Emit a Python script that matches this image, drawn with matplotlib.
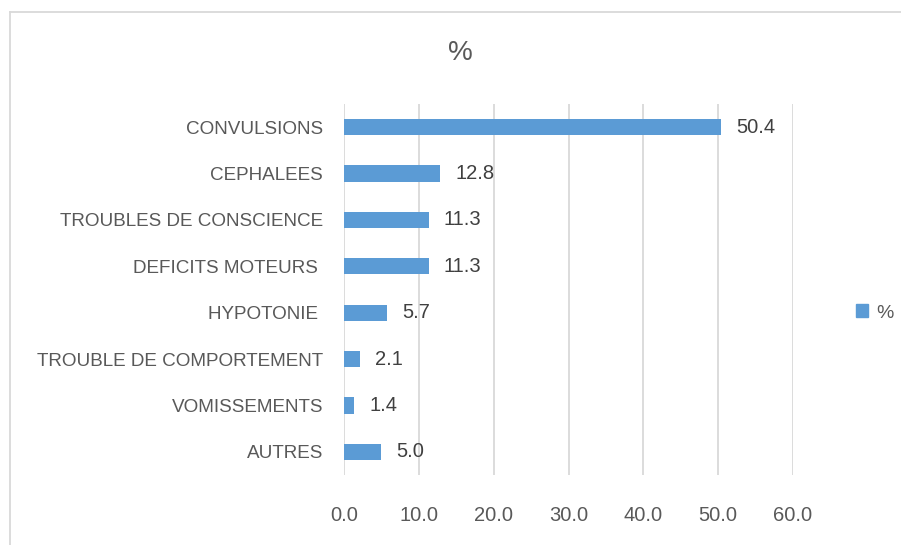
import matplotlib.pyplot as plt
from matplotlib.lines import Line2D
from matplotlib.patches import Patch

categories = ['CONVULSIONS', 'CEPHALEES', 'TROUBLES DE CONSCIENCE', 'DEFICITS MOTEURS ',
              'HYPOTONIE ', 'TROUBLE DE COMPORTEMENT', 'VOMISSEMENTS', 'AUTRES']
values = [50.4, 12.8, 11.3, 11.3, 5.7, 2.1, 1.4, 5.0]
xticks = [0, 10, 20, 30, 40, 50, 60]
series_name = '%'

plt.rcParams['font.family'] = ['Liberation Sans', 'DejaVu Sans']

bar_color = '#5B9BD5'
text_color = '#595959'
grid_color = '#D9D9D9'

fig = plt.figure(figsize=(9.01, 5.45), dpi=100)
ax = fig.add_axes([344 / 901, 1 - 475 / 545, (793 - 344) / 901, 371 / 545])

pos = list(range(len(categories)))
ax.barh(pos, values, height=0.35, color=bar_color, zorder=3)
for p, v in zip(pos, values):
    ax.annotate(f'{v:.1f}', (v, p), xytext=(11, 0), textcoords='offset points',
                va='center', ha='left', fontsize=14.5, color='#404040')

ax.set_xlim(0, 60)
ax.set_ylim(len(categories) - 0.5, -0.5)
ax.set_xticks(xticks)
ax.set_xticklabels([f'{t:.1f}' for t in xticks])
ax.set_yticks(pos)
ax.set_yticklabels(categories)
ax.tick_params(axis='x', length=0, labelsize=14.5, labelcolor=text_color, pad=22)
ax.tick_params(axis='y', length=0, labelsize=13.6, labelcolor=text_color, pad=15)
ax.grid(axis='x', color=grid_color, lw=1.3, zorder=0)
for s in ax.spines.values():
    s.set_visible(False)

fig.text(460 / 901, 1 - 53 / 545, '%', ha='center', va='center', fontsize=20, color=text_color)

fig.legend(handles=[Patch(color=bar_color)], labels=[series_name], loc='center left',
           bbox_to_anchor=(838 / 901, 1 - 313 / 545), frameon=False, fontsize=14,
           handlelength=0.65, handleheight=0.65, handletextpad=0.4, labelcolor=text_color)

# chart frame
fig.add_artist(Line2D([10 / 901, 1], [1 - 12 / 545] * 2, color=grid_color, lw=1.3))
fig.add_artist(Line2D([10 / 901] * 2, [0, 1 - 12 / 545], color=grid_color, lw=1.3))

fig.savefig('out.png', dpi=100, facecolor='white')
